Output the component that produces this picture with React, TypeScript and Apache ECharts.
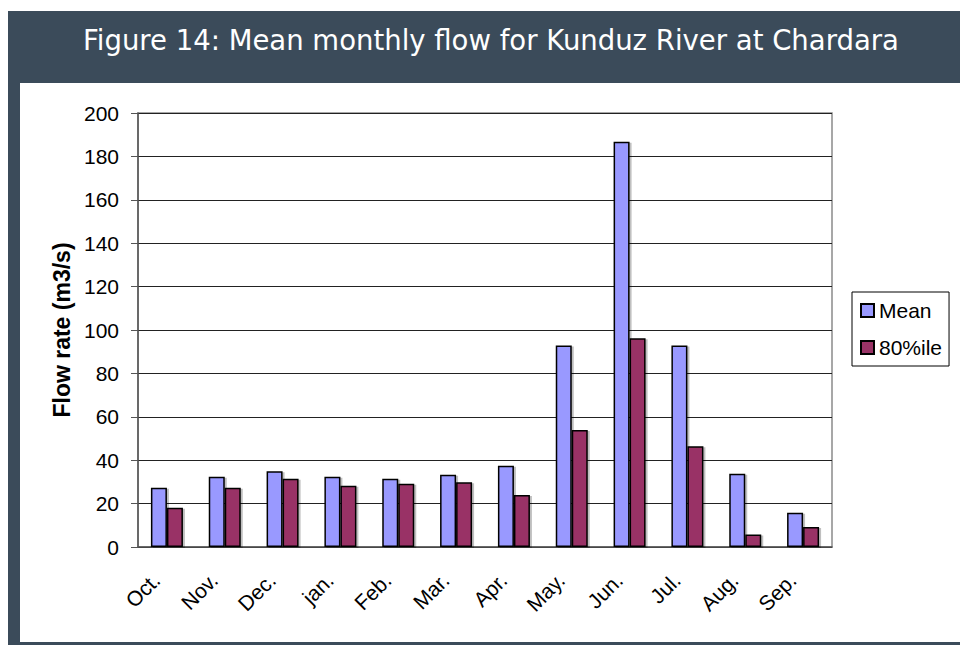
import React, { useEffect, useRef } from "react";
import * as echarts from "echarts";

const titleText = "Figure 14: Mean monthly flow for Kunduz River at Chardara";
const months = ["Oct.", "Nov.", "Dec.", "jan.", "Feb.", "Mar.", "Apr.", "May.", "Jun.", "Jul.", "Aug.", "Sep."];
const meanFlow = [27.3, 32.4, 34.9, 32.4, 31.5, 33.3, 37.5, 92.8, 186.8, 92.8, 33.8, 15.8];
const pct80Flow = [18.1, 27.3, 31.5, 28.2, 29.2, 29.8, 24.0, 53.9, 96.2, 46.4, 5.8, 9.2];
const seriesNames = ["Mean", "80%ile"];
const yAxisName = "Flow rate (m3/s)";

export default function App() {
  const ref = useRef<HTMLDivElement>(null);
  useEffect(() => {
    if (!ref.current) return;
    const chart = echarts.init(ref.current, undefined, { renderer: "svg" });
    const font = "Liberation Sans, Arial, sans-serif";
    chart.setOption({
      animation: false,
      backgroundColor: "#ffffff",
      graphic: [
        { type: "rect", z: -10, shape: { x: 8, y: 11, width: 952, height: 634 }, style: { fill: "#3b4b5a" } },
        { type: "rect", z: -9, shape: { x: 20, y: 83, width: 940, height: 559 }, style: { fill: "#ffffff" } },
      ],
      title: {
        text: titleText,
        left: 78,
        top: 21,
        textStyle: { fontFamily: "DejaVu Sans", fontSize: 27.5, fontWeight: "normal", color: "#ffffff" },
      },
      legend: {
        orient: "vertical",
        left: 852,
        top: 292,
        data: seriesNames,
        itemWidth: 13,
        itemHeight: 13,
        itemGap: 16,
        padding: [8, 7, 8, 8],
        borderColor: "#000",
        borderWidth: 1,
        icon: "rect",
        textStyle: { fontFamily: font, fontSize: 21, color: "#000" },
      },
      grid: {
        left: 138,
        top: 113,
        right: 128,
        bottom: 98,
        show: true,
        borderColor: "#8a8a8a",
        borderWidth: 1.5,
      },
      xAxis: {
        type: "category",
        data: months,
        axisLine: { lineStyle: { color: "#555", width: 1.5 } },
        axisTick: { length: 6, lineStyle: { color: "#555" } },
        axisLabel: { rotate: 45, margin: 19, padding: [0, 15, 0, 0], fontFamily: font, fontSize: 21, color: "#000" },
      },
      yAxis: {
        type: "value",
        min: 0,
        max: 200,
        interval: 20,
        name: yAxisName,
        nameLocation: "middle",
        nameRotate: 90,
        nameGap: 60,
        nameTextStyle: { fontFamily: font, fontSize: 23, fontWeight: "bold", color: "#000" },
        axisLine: { show: true, lineStyle: { color: "#555", width: 1.5 } },
        axisTick: { show: true, length: 7, lineStyle: { color: "#555" } },
        axisLabel: { margin: 19, fontFamily: font, fontSize: 21, color: "#000" },
        splitLine: { lineStyle: { color: "#222", width: 1 } },
      },
      series: [
        {
          name: seriesNames[0],
          type: "bar",
          data: meanFlow,
          barWidth: 16,
          barGap: "0%",
          itemStyle: { color: "#9999ff", borderColor: "#000", borderWidth: 1.5, shadowColor: "rgba(0,0,0,0.25)", shadowOffsetX: 2, shadowOffsetY: 1 },
        },
        {
          name: seriesNames[1],
          type: "bar",
          data: pct80Flow,
          barWidth: 16,
          barGap: "0%",
          itemStyle: { color: "#993366", borderColor: "#000", borderWidth: 1.5, shadowColor: "rgba(0,0,0,0.25)", shadowOffsetX: 2, shadowOffsetY: 1 },
        },
      ],
    });
    return () => chart.dispose();
  }, []);
  return <div ref={ref} style={{ position: "fixed", left: 0, top: 0, width: 960, height: 645 }} />;
}
